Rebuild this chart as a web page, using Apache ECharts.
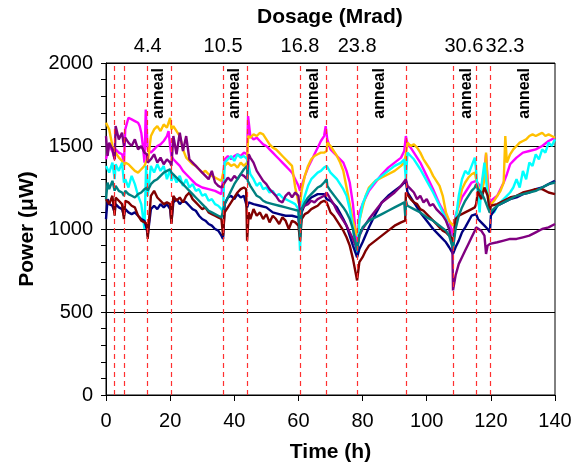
<!DOCTYPE html>
<html>
<head>
<meta charset="utf-8">
<script src="https://cdn.jsdelivr.net/npm/echarts@6/dist/echarts.min.js"></script>
<style>
  html, body { margin: 0; padding: 0; background: #ffffff; }
  #chart { width: 584px; height: 468px; }
</style>
</head>
<body>
<div id="chart"></div>
<script>
// Irradiation start times (h), drawn as dashed vertical lines
const doseTimes = [2.7, 5.6, 13.0, 20.4, 36.5, 44.0, 60.5, 68.8, 78.3, 93.5, 108.2, 115.4, 119.7];

// Accumulated dose labels along the top of the plot
const dosageLabels = ['4.4', '10.5', '16.8', '23.8', '30.6', '32.3'];
const dosageTimes = [13.0, 36.5, 60.5, 78.3, 111.6, 124.4];

// Annealing periods
const annealTimes = [16.4, 40.2, 64.6, 85.4, 112.4, 130.6];

// Power readings [time (h), power (uW)] for each channel
const navy = [[0,1060],[0.5,1180],[1,1150],[2,1140],[2.7,1100],[3,1150],[4,1130],[5,1120],[5.6,1080],[6,1120],[7,1100],[8,1090],[9,1100],[10,1080],[11,1060],[12,1050],[12.7,1000],[13.0,960],[14,1120],[15,1140],[16,1120],[17,1150],[18,1130],[19,1150],[20,1120],[20.4,1040],[21,1160],[22,1180],[23,1150],[24,1170],[25,1160],[26,1140],[27,1120],[28,1110],[29,1080],[30,1060],[31,1050],[32,1030],[33,1020],[34,1000],[35,990],[36,960],[36.5,940],[37,1150],[38,1190],[39,1200],[40,1180],[41,1210],[42,1190],[43,1200],[44.0,1130],[44.5,1160],[46,1150],[48,1140],[50,1130],[52,1100],[54,1090],[56,1080],[58,1080],[60,1070],[60.5,970],[61,1100],[62,1150],[64,1190],[66,1210],[68,1210],[68.8,1180],[70,1170],[72,1130],[74,1060],[75,1020],[76,960],[77,900],[78.3,830],[79,880],[80,920],[82,1010],[84,1090],[86,1160],[88,1200],[90,1230],[92,1260],[93.5,1290],[94,1220],[96,1160],[98,1100],[100,1050],[102,1000],[104,960],[106,920],[107,890],[108.2,850],[109,890],[110,930],[111,980],[112,1010],[114,1080],[115.4,1090],[116,1060],[117,1040],[118,1020],[119,1000],[119.7,980],[120,1080],[122,1140],[124,1160],[126,1180],[128,1190],[130,1210],[132,1220],[134,1240],[136,1250],[138,1270],[140,1290]];

const maroon = [[0,1180],[1,1150],[2,1200],[2.7,1080],[3,1190],[4,1170],[5,1150],[5.6,1060],[6,1170],[7,1160],[8,1140],[9,1130],[10,1080],[11,1050],[12,1040],[12.8,1030],[13.0,940],[14,1200],[15,1230],[16,1190],[17,1170],[18,1150],[19,1160],[20,1150],[20.4,1030],[21,1200],[22,1170],[23,1190],[24,1160],[25,1200],[26,1220],[27,1180],[28,1160],[29,1140],[30,1120],[31,1130],[32,1100],[33,1090],[34,1080],[35,1070],[36,1060],[36.5,960],[37,1100],[38,1130],[39,1160],[40,1190],[41,1220],[42,1240],[43,1250],[43.7,1240],[44.0,930],[44.5,1100],[45,1060],[46,1120],[47,1080],[48,1100],[49,1060],[50,1090],[51,1040],[52,1080],[53,1060],[54,1030],[55,1070],[56,1050],[57,1000],[58,1050],[59,1040],[60,1020],[60.5,930],[61,1060],[62,1090],[63,1100],[64,1120],[65,1130],[66,1140],[67,1160],[68,1170],[68.8,1160],[70,1100],[71,1080],[72,1050],[73,1020],[74,990],[75,950],[76,900],[77,820],[78.3,690],[79,800],[80,830],[81,870],[82,900],[84,930],[86,960],[88,990],[90,1020],[92,1040],[93.3,1050],[93.5,1220],[94,1210],[95,1180],[96,1160],[97,1150],[98,1120],[99,1110],[100,1090],[101,1070],[102,1050],[103,1030],[104,1010],[105,990],[106,980],[107,960],[108,940],[108.2,900],[109,1060],[110,1080],[112,1100],[114,1120],[115,1130],[115.4,1150],[116,1230],[117,1180],[118,1250],[119,1200],[119.7,1100],[120,1140],[122,1150],[124,1170],[126,1190],[128,1200],[130,1220],[132,1230],[134,1240],[136,1240],[138,1220],[140,1210]];

const magenta = [[0,1420],[1,1500],[2,1470],[2.7,1420],[3,1480],[4,1460],[5,1450],[5.6,1400],[6,1600],[7,1670],[8,1660],[9,1650],[10,1640],[10.5,1620],[11,1580],[11.5,1500],[12,1400],[12.4,1720],[13,1480],[14,1460],[15,1480],[16,1500],[17,1510],[18,1530],[19,1560],[19.5,1590],[20,1500],[20.4,1440],[21,1420],[22,1400],[23,1380],[24,1350],[25,1330],[26,1310],[27,1290],[28,1270],[30,1250],[32,1240],[34,1230],[36,1210],[36.5,1200],[37,1420],[38,1440],[39,1420],[40,1440],[41,1450],[42,1440],[43,1460],[44.0,1450],[44.3,1680],[45,1560],[46,1540],[47,1550],[48,1530],[49,1510],[50,1500],[51,1480],[52,1460],[53,1440],[54,1420],[55,1400],[56,1380],[57,1360],[58,1340],[59,1300],[60,1260],[60.5,1230],[61,1260],[62,1320],[63,1370],[64,1410],[65,1450],[66,1490],[67,1530],[68,1560],[68.5,1620],[68.8,1570],[69,1540],[70,1480],[71,1460],[72,1440],[73,1420],[74,1400],[75,1350],[76,1280],[77,1150],[78.3,900],[79,1100],[80,1150],[81,1190],[82,1230],[84,1280],[86,1330],[88,1370],[90,1400],[92,1430],[93,1470],[93.5,1560],[94,1510],[95,1490],[96,1460],[98,1400],[100,1320],[102,1240],[104,1150],[106,1080],[107,1050],[108.2,960],[109,1080],[110,1140],[111,1190],[112,1220],[113,1250],[114,1280],[115.4,1290],[116,1300],[117,1250],[118,1350],[118.5,1450],[119,1300],[119.7,1150],[120,1170],[122,1200],[124,1280],[125,1330],[126,1390],[127,1410],[128,1430],[130,1460],[132,1470],[134,1480],[136,1500],[138,1530],[140,1550]];

const gold = [[0,1640],[1,1600],[2,1500],[2.7,1440],[3,1460],[4,1430],[5,1410],[5.6,1380],[6,1400],[7,1390],[8,1370],[9,1350],[10,1340],[11,1360],[12,1380],[12.8,1420],[13.0,1400],[14,1560],[15,1600],[16,1620],[17,1590],[18,1630],[19,1610],[20,1670],[20.4,1600],[21,1620],[22,1590],[23,1560],[24,1480],[25,1430],[26,1410],[27,1390],[28,1380],[29,1360],[30,1340],[31,1350],[32,1330],[33,1320],[34,1310],[35,1300],[36,1290],[36.5,1280],[37,1380],[38,1400],[39,1380],[40,1390],[41,1370],[42,1400],[43,1380],[44.0,1400],[44.3,1560],[45,1550],[46,1570],[47,1560],[48,1580],[49,1570],[50,1540],[51,1510],[52,1490],[53,1480],[54,1460],[55,1440],[56,1420],[57,1400],[58,1380],[59,1250],[60,1160],[60.5,1140],[61,1230],[62,1320],[63,1380],[64,1420],[65,1440],[66,1450],[67,1460],[68,1460],[68.8,1470],[69,1520],[70,1500],[71,1470],[72,1440],[73,1400],[74,1350],[75,1250],[76,1150],[77,1050],[78.3,960],[79,1050],[80,1130],[81,1200],[82,1250],[84,1290],[86,1310],[88,1330],[90,1350],[92,1380],[93,1400],[93.5,1450],[94,1520],[95,1500],[96,1510],[97,1490],[98,1460],[99,1420],[100,1390],[101,1360],[102,1320],[103,1290],[104,1260],[105,1200],[106,1100],[107,1050],[108.2,1020],[109,1060],[110,1150],[111,1240],[112,1280],[113,1310],[114,1330],[115,1340],[115.4,1300],[116,1260],[117,1200],[118,1300],[118.5,1460],[119,1250],[119.7,1140],[120,1150],[121,1170],[122,1200],[123,1230],[124,1280],[124.5,1560],[125,1400],[126,1450],[127,1480],[128,1500],[129,1520],[130,1530],[131,1540],[132,1560],[133,1570],[134,1560],[135,1570],[136,1580],[137,1560],[138,1570],[139,1560],[140,1550]];

const cyan = [[0,1380],[1,1340],[2,1400],[2.7,1300],[3,1390],[4,1350],[5,1400],[5.6,1280],[6,1300],[7,1250],[8,1320],[9,1270],[10,1200],[11,1150],[12,1000],[12.5,1380],[13,1200],[14,1380],[15,1340],[16,1390],[17,1350],[18,1380],[19,1300],[20,1360],[20.4,1290],[21,1330],[22,1280],[23,1320],[24,1260],[25,1300],[26,1250],[27,1270],[28,1230],[29,1240],[30,1200],[31,1210],[32,1170],[33,1180],[34,1150],[35,1140],[36,1120],[36.5,1100],[37,1400],[38,1420],[39,1440],[40,1410],[41,1450],[42,1430],[43,1440],[44.0,1420],[44.5,1380],[45,1330],[46,1300],[47,1260],[48,1280],[49,1240],[50,1250],[51,1220],[52,1230],[53,1200],[54,1210],[55,1190],[56,1180],[57,1170],[58,1160],[59,1150],[60,1120],[60.5,870],[61,1130],[62,1200],[63,1260],[64,1300],[65,1320],[66,1340],[67,1350],[68,1370],[68.8,1380],[69,1370],[70,1340],[71,1320],[72,1300],[73,1270],[74,1240],[75,1200],[76,1120],[77,1000],[78.3,840],[79,1050],[80,1150],[81,1200],[82,1240],[84,1290],[86,1320],[88,1350],[90,1380],[92,1400],[93,1420],[93.5,1300],[94,1460],[95,1440],[96,1420],[98,1360],[100,1290],[102,1220],[104,1140],[106,1060],[107,1000],[108.2,900],[109,1050],[110,1200],[111,1300],[112,1350],[113,1330],[114,1380],[115,1430],[115.4,1350],[116,1200],[116.5,1100],[117,1250],[118,1400],[118.5,1300],[119,1200],[119.7,1100],[120,1110],[121,1100],[122,1140],[123,1160],[124,1180],[125,1200],[126,1220],[127,1250],[128,1300],[129,1250],[130,1350],[131,1300],[132,1400],[133,1380],[134,1450],[135,1420],[136,1480],[137,1460],[138,1520],[139,1500],[140,1540]];

const purple = [[0,1560],[0.5,1440],[1,1520],[2,1480],[2.7,1420],[3,1620],[4,1540],[5,1580],[5.6,1500],[6,1550],[7,1520],[8,1500],[9,1540],[10,1480],[11,1500],[12,1460],[12.8,1450],[13.0,1400],[14,1420],[15,1450],[16,1400],[17,1430],[18,1390],[19,1420],[20,1400],[20.4,1380],[21,1560],[22,1450],[23,1580],[24,1470],[25,1560],[26,1420],[27,1400],[28,1380],[29,1360],[30,1340],[31,1320],[32,1300],[33,1350],[34,1280],[35,1260],[36,1250],[36.5,1240],[37,1280],[38,1310],[39,1290],[40,1320],[41,1300],[42,1330],[43,1320],[44.0,1300],[44.5,1450],[45,1430],[46,1400],[47,1350],[48,1320],[49,1290],[50,1270],[51,1240],[52,1220],[53,1200],[54,1170],[55,1160],[56,1200],[57,1220],[58,1190],[59,1220],[60,1200],[60.5,1100],[61,1120],[62,1140],[63,1150],[64,1170],[65,1160],[66,1180],[67,1190],[68,1200],[68.8,1220],[69,1210],[70,1180],[71,1150],[72,1110],[73,1080],[74,1050],[75,1020],[76,980],[77,940],[78.3,880],[79,960],[80,1000],[82,1060],[84,1110],[86,1160],[88,1190],[90,1220],[92,1260],[93.5,1300],[94,1260],[95,1240],[96,1220],[97,1180],[98,1200],[99,1160],[100,1180],[101,1140],[102,1150],[103,1120],[104,1100],[105,1080],[106,1050],[107,1000],[108,900],[108.2,630],[109,720],[110,790],[111,830],[112,870],[113,910],[114,950],[115,990],[115.4,1010],[116,1000],[117,990],[118,960],[118.5,850],[119,900],[119.7,910],[120,910],[122,920],[124,930],[126,940],[128,940],[130,950],[132,960],[134,980],[136,1000],[138,1010],[140,1030]];

const teal = [[0,1180],[0.5,1280],[1,1240],[2,1290],[2.7,1230],[3,1260],[4,1230],[5,1220],[5.6,1200],[6,1230],[7,1210],[8,1200],[9,1190],[10,1210],[11,1220],[12,1240],[12.8,1250],[13.0,1230],[14,1270],[15,1290],[16,1300],[17,1320],[18,1340],[19,1350],[20,1360],[20.4,1340],[21,1330],[22,1310],[23,1290],[24,1270],[25,1250],[26,1230],[27,1210],[28,1190],[29,1170],[30,1150],[31,1130],[32,1110],[33,1100],[34,1090],[35,1080],[36,1070],[36.5,1080],[37,1150],[38,1190],[39,1230],[40,1270],[41,1300],[42,1330],[43,1360],[44.0,1380],[44.2,1290],[45,1260],[46,1230],[47,1200],[48,1190],[49,1170],[50,1160],[52,1150],[54,1140],[56,1130],[58,1120],[60,1110],[60.5,950],[61,1120],[62,1160],[63,1190],[64,1210],[65,1230],[66,1250],[67,1260],[68,1280],[68.8,1300],[69,1260],[70,1230],[72,1180],[74,1130],[75,1100],[76,1060],[77,1000],[78.3,870],[79,960],[80,1010],[82,1050],[84,1070],[86,1090],[88,1110],[90,1130],[92,1150],[93,1160],[93.3,1080],[93.5,1170],[94,1140],[96,1120],[98,1100],[100,1070],[102,1050],[104,1020],[106,990],[107,960],[108.2,880],[109,1000],[110,1080],[111,1130],[112,1170],[113,1200],[114,1230],[115,1250],[115.4,1270],[116,1240],[117,1220],[118,1180],[119,1130],[119.7,1100],[120,1110],[122,1140],[124,1160],[126,1180],[128,1200],[130,1210],[132,1220],[134,1230],[136,1250],[138,1270],[140,1280]];

const channels = [
  { name: 'Channel 3', color: '#ff00ff', data: magenta },
  { name: 'Channel 4', color: '#ffc000', data: gold },
  { name: 'Channel 5', color: '#00ffff', data: cyan },
  { name: 'Channel 1', color: '#000080', data: navy },
  { name: 'Channel 6', color: '#800080', data: purple },
  { name: 'Channel 2', color: '#800000', data: maroon },
  { name: 'Channel 7', color: '#008080', data: teal }
];

const FONT = '"Liberation Sans", Arial, Helvetica, sans-serif';

const chart = echarts.init(document.getElementById('chart'), null, { renderer: 'canvas' });

const series = [];

// Dashed markers at the start of each irradiation step
series.push({
  type: 'line',
  name: 'dose steps',
  data: [],
  silent: true,
  z: 1,
  markLine: {
    silent: true,
    symbol: ['none', 'none'],
    label: { show: false },
    lineStyle: { color: '#ff3030', type: [5, 4], width: 1.2 },
    emphasis: { disabled: true },
    data: doseTimes.map(t => ({ xAxis: t }))
  }
});

channels.forEach(c => {
  series.push({
    type: 'line',
    name: c.name,
    data: c.data,
    showSymbol: false,
    symbol: 'none',
    z: 2,
    lineStyle: { color: c.color, width: 2.4 },
    itemStyle: { color: c.color },
    emphasis: { disabled: true }
  });
});

const textLabel = {
  show: true,
  position: 'inside',
  formatter: p => p.name,
  fontFamily: FONT,
  color: '#000000',
  opacity: 1,
  textBorderWidth: 0
};

// Dose values written above the plot frame
series.push({
  type: 'scatter',
  name: 'dose',
  clip: false,
  silent: true,
  symbolSize: 1,
  itemStyle: { color: 'rgba(0,0,0,0)', opacity: 1 },
  data: dosageLabels.map((s, i) => ({ value: [dosageTimes[i], 2100], name: s })),
  label: Object.assign({}, textLabel, { fontSize: 20 }),
  z: 5
});

// "anneal" tags, rotated, near the top of the plot
series.push({
  type: 'scatter',
  name: 'anneal',
  clip: false,
  silent: true,
  symbolSize: 1,
  itemStyle: { color: 'rgba(0,0,0,0)', opacity: 1 },
  data: annealTimes.map(t => ({ value: [t, 1817], name: 'anneal' })),
  label: Object.assign({}, textLabel, { fontSize: 16, fontWeight: 'bold', rotate: 90 }),
  z: 5
});

chart.setOption({
  animation: false,
  backgroundColor: '#ffffff',
  graphic: [{
    type: 'text',
    left: 257,
    top: 7,
    style: {
      text: 'Dosage (Mrad)',
      font: 'bold 21px ' + FONT,
      fill: '#000'
    }
  }],
  grid: {
    left: 106, right: 29, top: 63, bottom: 72,
    show: true,
    borderColor: '#000',
    borderWidth: 1,
    backgroundColor: 'transparent'
  },
  xAxis: {
    type: 'value',
    min: 0, max: 140, interval: 20,
    name: 'Time (h)',
    nameLocation: 'middle',
    nameGap: 47,
    nameTextStyle: { fontFamily: FONT, fontSize: 21, fontWeight: 'bold', color: '#000' },
    axisLine: { show: true, onZero: false, lineStyle: { color: '#000', width: 1 } },
    axisTick: { show: true, length: 6, lineStyle: { color: '#000' } },
    axisLabel: { fontFamily: FONT, fontSize: 20, color: '#000', margin: 16 },
    splitLine: { show: false }
  },
  yAxis: {
    type: 'value',
    min: 0, max: 2000, interval: 500,
    name: 'Power (\u03bcW)',
    nameLocation: 'middle',
    nameGap: 68,
    nameTextStyle: { fontFamily: FONT, fontSize: 21, fontWeight: 'bold', color: '#000' },
    axisLine: { show: true, lineStyle: { color: '#000', width: 1 } },
    axisTick: { show: true, length: 5, lineStyle: { color: '#000' } },
    minorTick: { show: true, splitNumber: 5, length: 5, lineStyle: { color: '#000' } },
    axisLabel: { fontFamily: FONT, fontSize: 20, color: '#000', margin: 13, formatter: v => String(v) },
    splitLine: { show: true, lineStyle: { color: '#000', width: 1 } }
  },
  series: series
});
</script>
</body>
</html>
